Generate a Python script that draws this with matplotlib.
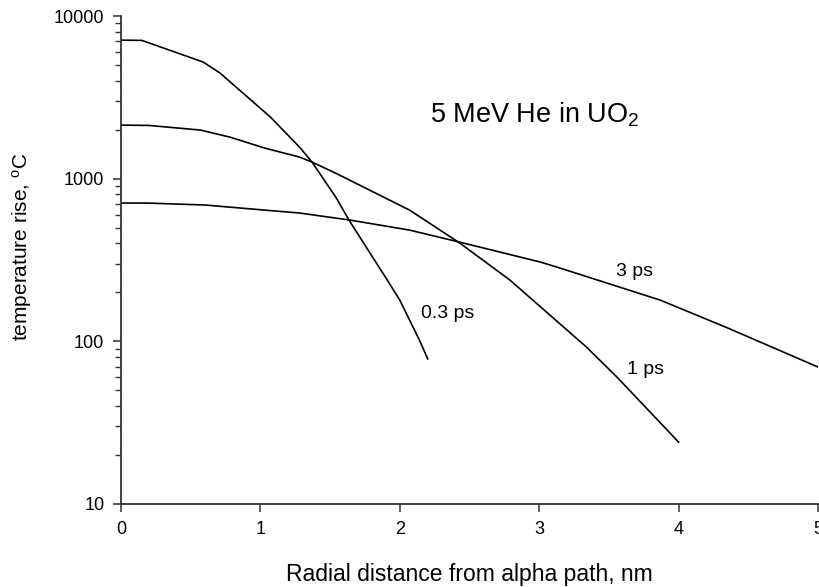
import matplotlib
matplotlib.use("Agg")
import matplotlib.pyplot as plt
from matplotlib.ticker import LogLocator, FixedLocator, NullFormatter, FuncFormatter

plt.rcParams['font.family'] = ['Liberation Sans', 'DejaVu Sans']
plt.rcParams['mathtext.fontset'] = 'custom'
plt.rcParams['mathtext.rm'] = 'Liberation Sans'
plt.rcParams['mathtext.it'] = 'Liberation Sans:italic'

# temperature rise profiles
x_03ps = [0, 0.15, 0.59, 0.71, 0.85, 1.07, 1.28, 1.37, 1.54, 1.64, 1.91, 2.0, 2.14, 2.2]
t_03ps = [7110, 7080, 5210, 4460, 3505, 2400, 1565, 1265, 771, 548, 238, 179, 102, 78]

x_1ps = [0, 0.2, 0.57, 0.78, 1.03, 1.28, 1.37, 1.54, 2.07, 2.43, 2.79, 3.34, 3.56, 4.0]
t_1ps = [2135, 2125, 1990, 1802, 1543, 1358, 1265, 1081, 641, 402, 238, 92, 60, 24]

x_3ps = [0, 0.19, 0.6, 1.03, 1.28, 1.64, 2.07, 2.43, 3.01, 3.15, 3.87, 4.35, 5.0]
t_3ps = [708, 708, 689, 641, 615, 557, 483, 407, 307, 282, 179, 121, 69.5]

fig = plt.figure(figsize=(8.2, 5.87), dpi=100)
ax = fig.add_axes([0.1476, 0.1414, 0.85, 0.8313])

for xs, ts in [(x_03ps, t_03ps), (x_1ps, t_1ps), (x_3ps, t_3ps)]:
    ax.plot(xs, ts, color='black', lw=1.2)

ax.set_yscale('log')
ax.set_xlim(0, 5)
ax.set_ylim(10, 10000)
ax.xaxis.set_major_locator(FixedLocator([0, 1, 2, 3, 4, 5]))
ax.yaxis.set_major_locator(FixedLocator([10, 100, 1000, 10000]))
ax.yaxis.set_major_formatter(FuncFormatter(lambda v, p: '%d' % v))
ax.yaxis.set_minor_locator(LogLocator(base=10, subs=range(2, 10)))
ax.yaxis.set_minor_formatter(NullFormatter())

for side in ['top', 'right']:
    ax.spines[side].set_visible(False)
for side in ['left', 'bottom']:
    ax.spines[side].set_linewidth(1.3)
    ax.spines[side].set_color('#333333')

ax.tick_params(axis='both', which='major', direction='out', length=6, width=1.1,
               labelsize=13, color='#333333', pad=6)
ax.tick_params(axis='y', which='minor', direction='out', length=4, width=1.0, color='#333333')

ax.set_xlabel('Radial distance from alpha path, nm', fontsize=16.5, labelpad=18)
ax.set_ylabel('temperature rise, $^{\\mathrm{o}}$C', fontsize=15)
ax.yaxis.set_label_coords(-0.125, 0.527)

ax.text(2.22, 2228, '5 MeV He in UO$_2$', fontsize=19.5, ha='left', va='baseline')
ax.text(3.55, 267, '3 ps', fontsize=14, ha='left', va='center')
ax.text(3.63, 66.7, '1 ps', fontsize=14, ha='left', va='center')
ax.text(2.15, 149, '0.3 ps', fontsize=14, ha='left', va='center')

for lab in ax.get_xticklabels():
    lab.set_clip_on(False)

fig.savefig('out.png', dpi=100)
